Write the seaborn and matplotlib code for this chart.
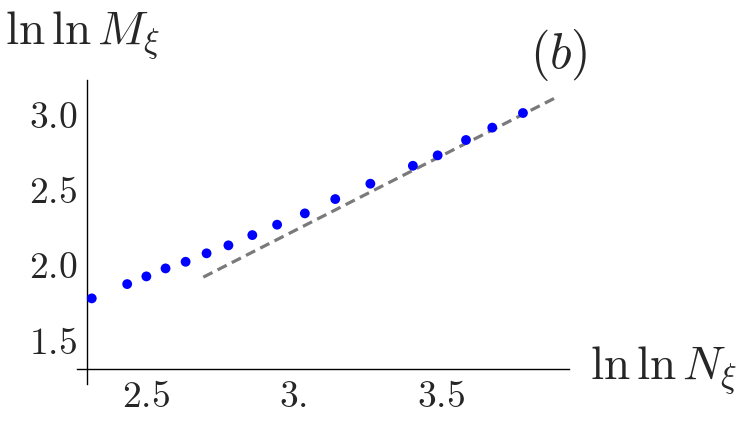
import matplotlib
matplotlib.use("Agg")
import matplotlib.pyplot as plt
import seaborn as sns
import pandas as pd

# data
ln_ln_n = [2.317, 2.437, 2.502, 2.567, 2.635, 2.706, 2.780, 2.861, 2.945,
           3.039, 3.142, 3.261, 3.405, 3.489, 3.585, 3.674, 3.778]
ln_ln_m = [1.774, 1.869, 1.920, 1.973, 2.017, 2.073, 2.126, 2.194, 2.263,
           2.338, 2.433, 2.535, 2.654, 2.723, 2.825, 2.907, 3.004]
fit_x = [2.695, 3.887]
fit_y = [1.915, 3.104]

x_ticks = [2.5, 3.0, 3.5]
x_tick_labels = ["2.5", "3.", "3.5"]
y_ticks = [1.5, 2.0, 2.5, 3.0]
y_tick_labels = ["1.5", "2.0", "2.5", "3.0"]

sns.set_style("white")
plt.rcParams["mathtext.fontset"] = "cm"

points = pd.DataFrame({"x": ln_ln_n, "y": ln_ln_m})
fit = pd.DataFrame({"x": fit_x, "y": fit_y})

fig = plt.figure(figsize=(7.5, 4.28), dpi=100)
ax = fig.add_axes([77 / 750, 1 - 384 / 428, 492 / 750, 304 / 428])

sns.lineplot(data=fit, x="x", y="y", ax=ax, color="#7a7a7a", lw=2.3,
             linestyle=(0, (3.2, 1.8)))
sns.scatterplot(data=points, x="x", y="y", ax=ax, color="#0000ff", s=50,
                edgecolor="none", zorder=3)

ax.set_xlim(2.267, 3.934)
ax.set_ylim(1.206, 3.223)

for side in ["top", "right"]:
    ax.spines[side].set_visible(False)
ax.spines["left"].set_position(("data", 2.300))
ax.spines["bottom"].set_position(("data", 1.303))
for side in ["left", "bottom"]:
    ax.spines[side].set_linewidth(1.0)
    ax.spines[side].set_color("black")

ax.set_xticks(x_ticks, [f"${t}$" for t in x_tick_labels])
ax.set_yticks(y_ticks, [f"${t}$" for t in y_tick_labels])
ax.tick_params(direction="in", length=5, width=0.8, labelsize=27, pad=7)
ax.set_xlabel("")
ax.set_ylabel("")

fig.text(5 / 750, 1 - 45 / 428, r"$\ln \ln M_\xi$", fontsize=34, va="baseline")
fig.text(590 / 750, 1 - 380 / 428, r"$\ln \ln N_\xi$", fontsize=34, va="baseline")
fig.text(530 / 750, 1 - 68 / 428, r"$(b)$", fontsize=36, va="baseline")

fig.savefig("out.png", dpi=100)
